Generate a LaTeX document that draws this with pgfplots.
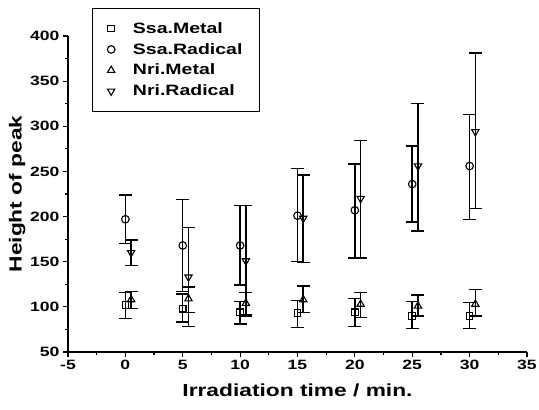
\documentclass[border=0pt]{standalone}
\usepackage{fontspec}
\setmainfont{Liberation Sans}[FakeStretch=1.3]
\usepackage{pgfplots}
\pgfplotsset{compat=1.18}
\usepackage{pgfplotstable}

\pgfplotstableread{
x    y    ep  em
0    102  14  15
5    98   16  15
10   94   12  13
15   93   14  16
20   94   15  16
25   90   16  14
30   90   15  14
}\ssametal
\pgfplotstableread{
x    y    ep  em
0    197  27  27
5    168  51  51
10   168  44  44
15   201  52  51
20   207  51  53
25   236  42  42
30   256  57  59
}\ssaradical
\pgfplotstableread{
x     y    ep  em
0.5   108  9   10
5.5   109  13  15
10.5  104  12  14
15.5  108  15  14
20.5  103  13  15
25.5  101  12  11
30.5  103  16  13
}\nrimetal
\pgfplotstableread{
x     y    ep  em
0.5   160  14  14
5.5   133  55  55
10.5  151  61  60
15.5  198  48  49
20.5  220  64  66
25.5  256  69  72
30.5  294  87  85
}\nriradical

\pgfplotsset{
  ebar/.style={
    only marks,
    error bars/y dir=both, error bars/y explicit,
    error bars/error bar style={line width=1.5pt},
    error bars/error mark options={mark size=6.5pt, line width=1.5pt, rotate=90},
  },
}

\begin{document}
\begin{tikzpicture}
\useasboundingbox (-68pt,-58pt) rectangle (471pt,352pt);
\begin{axis}[
  at={(0,0)}, anchor=south west,
  scale only axis, width=459pt, height=316pt,
  xmin=-5, xmax=35, ymin=50, ymax=400,
  axis lines*=left,
  axis line style={line width=1.4pt},
  xtick={-5,0,...,35}, ytick={50,100,...,400},
  minor x tick num=1, minor y tick num=1,
  tick align=outside,
  major tick length=5pt, minor tick length=3pt,
  tick style={line width=1.2pt, black},
  /pgf/number format/assume math mode=true,
  ticklabel style={font=\fontsize{13.5}{15}\selectfont\bfseries},
  xlabel={Irradiation time / min.},
  ylabel={Height of peak},
  label style={font=\fontsize{17.5}{20}\selectfont\bfseries},
  xlabel style={yshift=-7pt},
  ylabel style={yshift=-2pt},
  legend cell align=left,
  legend style={at={(axis description cs:0.052,1.089)}, anchor=north west,
    draw=black, line width=1pt,
    font=\fontsize{15}{18}\selectfont\bfseries,
    row sep=4.5pt, inner xsep=15pt, inner ysep=12pt,
    nodes={inner xsep=2pt, inner ysep=2pt}},
]
\addplot[ebar, mark=square, mark size=3.3pt, mark options={fill=white, line width=1.1pt, solid}] table[x=x, y=y, y error plus=ep, y error minus=em] {\ssametal};
\addlegendentry{\hspace{16pt}Ssa.Metal}
\addplot[ebar, mark=o, mark size=3.8pt, mark options={fill=white, line width=1.1pt, solid}] table[x=x, y=y, y error plus=ep, y error minus=em] {\ssaradical};
\addlegendentry{\hspace{16pt}Ssa.Radical}
\addplot[ebar, mark=triangle, mark size=4.2pt, mark options={fill=white, line width=1.1pt, solid}] table[x=x, y=y, y error plus=ep, y error minus=em] {\nrimetal};
\addlegendentry{\hspace{16pt}Nri.Metal}
\addplot[ebar, mark=triangle, mark size=4.2pt, mark options={fill=white, line width=1.1pt, solid, rotate=180}] table[x=x, y=y, y error plus=ep, y error minus=em] {\nriradical};
\addlegendentry{\hspace{16pt}Nri.Radical}
\end{axis}
\end{tikzpicture}
\end{document}
